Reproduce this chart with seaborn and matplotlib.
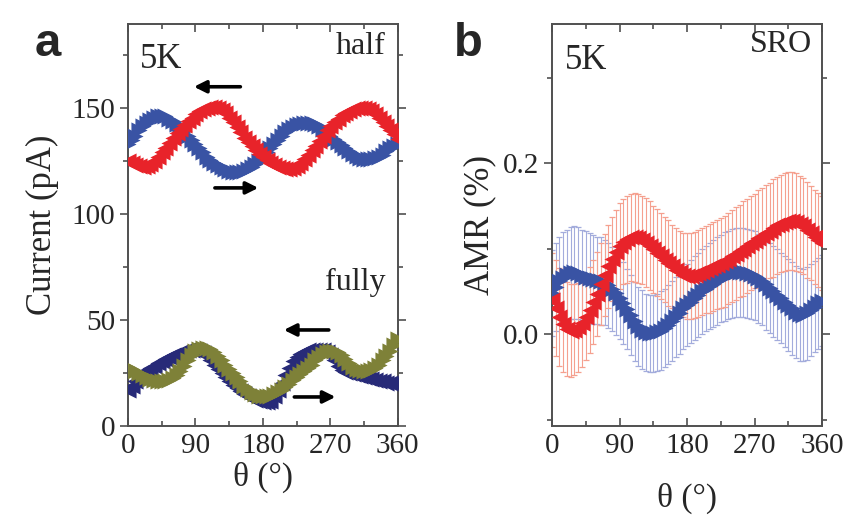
import numpy as np
import matplotlib
matplotlib.use("Agg")
import matplotlib.pyplot as plt
from matplotlib.ticker import MultipleLocator
import seaborn as sns

# ---------------- data ----------------
theta = list(range(0, 361, 5))

# (a) current vs angle, half-metallic device
half_up = [133, 135, 137, 139.5, 141.5, 143, 144.5, 145.5, 146, 146.3,
           146, 145, 144, 142.5, 141, 139, 137, 135, 133, 131,
           129, 127, 125.5, 124, 123, 122, 121, 120.5, 120, 120,
           120, 120.3, 121, 122, 123.5, 125, 127, 129, 131, 133,
           135, 137, 138.5, 140, 141, 142, 142.5, 143, 143, 143,
           142.5, 141.5, 140, 138.5, 137, 135.5, 134, 132.5, 131, 129.5,
           128.5, 127.5, 126.5, 126, 126, 126, 126.5, 127, 128, 129.5,
           131, 132, 133]
half_down = [125, 124, 123, 122.5, 122, 122.5, 123.5, 125, 127, 129,
             131, 133.5, 136, 138, 140, 142, 144, 145.5, 147, 148.5,
             149.5, 150, 150.5, 150.5, 150, 149, 147.5, 145.5, 143.5, 141,
             138.5, 136, 134, 132, 130, 128.5, 127, 125.5, 124, 123,
             122, 121.5, 121, 121, 121.5, 122.5, 124, 126, 128, 130,
             132, 134.5, 137, 139.5, 141.5, 143.5, 145, 146.5, 147.5, 148.5,
             149.5, 150, 150, 150, 149.5, 148.5, 147, 145.5, 143.5, 141.5,
             139.5, 137.5, 135.5]

# (a) current vs angle, fully-metallic device
fully_down = [17, 19, 21, 23, 25, 26.5, 27.5, 28.5, 29.5, 30.5,
              31.5, 32.5, 33.3, 34, 34.7, 35.3, 35.8, 36, 36, 35.5,
              34.5, 33, 31, 29, 27, 25, 23, 21, 19.5, 18,
              16.5, 15, 14, 13, 12.3, 11.8, 11.5, 11.5, 12, 14,
              17, 20.5, 24, 27.5, 30.5, 32.5, 34, 35, 35.8, 36,
              36, 36, 35.8, 35, 33.5, 31, 28.5, 26.5, 25.5, 25,
              24.5, 24, 23.5, 23, 22.5, 22, 21.5, 21, 21, 20.5,
              20.5, 20.5, 20.5]
fully_up = [28, 27, 26, 25, 24, 23, 22, 21.5, 21, 21,
            21, 21.5, 22.5, 24, 26, 28.5, 31, 33.5, 35.5, 36.5,
            37, 37, 36.5, 35, 33, 31, 29, 27, 25, 23,
            21, 19, 17.5, 16, 15, 14.3, 14, 14, 14.3, 15,
            16, 17, 18.5, 20, 21.5, 23, 24.5, 26, 27.5, 29,
            31, 32.5, 34, 35, 35.5, 35.5, 35, 33.5, 31.5, 29.5,
            28, 27, 26.5, 26, 26, 26.5, 27.5, 29, 31, 33,
            35.5, 38, 41]

# (b) AMR of SRO reference film
amr_up = [0.048, 0.055, 0.062, 0.066, 0.069, 0.071, 0.072, 0.071, 0.069, 0.067,
          0.066, 0.064, 0.063, 0.062, 0.060, 0.057, 0.053, 0.048, 0.042, 0.036,
          0.029, 0.022, 0.015, 0.009, 0.005, 0.002, 0.001, 0.001, 0.002, 0.004,
          0.007, 0.011, 0.015, 0.020, 0.025, 0.030, 0.034, 0.038, 0.042, 0.046,
          0.050, 0.053, 0.056, 0.059, 0.062, 0.065, 0.067, 0.069, 0.071, 0.072,
          0.072, 0.072, 0.071, 0.070, 0.068, 0.065, 0.062, 0.058, 0.054, 0.050,
          0.046, 0.042, 0.038, 0.034, 0.030, 0.026, 0.023, 0.022, 0.024, 0.028,
          0.032, 0.036, 0.039]
amr_up_err = [0.050, 0.051, 0.052, 0.053, 0.053, 0.054, 0.054, 0.054, 0.053, 0.053,
              0.052, 0.052, 0.051, 0.051, 0.050, 0.050, 0.049, 0.049, 0.048, 0.048,
              0.047, 0.047, 0.046, 0.046, 0.046, 0.045, 0.045, 0.045, 0.045, 0.046,
              0.046, 0.046, 0.047, 0.047, 0.048, 0.048, 0.048, 0.049, 0.049, 0.049,
              0.050, 0.050, 0.050, 0.051, 0.051, 0.051, 0.052, 0.052, 0.052, 0.052,
              0.052, 0.052, 0.052, 0.052, 0.052, 0.052, 0.052, 0.053, 0.053, 0.053,
              0.053, 0.053, 0.053, 0.054, 0.054, 0.054, 0.054, 0.054, 0.054, 0.054,
              0.053, 0.053, 0.053]
amr_down = [0.040, 0.030, 0.020, 0.012, 0.006, 0.004, 0.005, 0.008, 0.013, 0.020,
            0.028, 0.037, 0.047, 0.058, 0.069, 0.079, 0.088, 0.096, 0.103, 0.108,
            0.111, 0.113, 0.113, 0.112, 0.110, 0.107, 0.103, 0.099, 0.095, 0.091,
            0.087, 0.083, 0.079, 0.075, 0.072, 0.069, 0.068, 0.068, 0.069, 0.071,
            0.073, 0.075, 0.077, 0.079, 0.081, 0.083, 0.085, 0.088, 0.091, 0.094,
            0.097, 0.100, 0.103, 0.106, 0.109, 0.112, 0.115, 0.118, 0.121, 0.124,
            0.127, 0.129, 0.131, 0.132, 0.132, 0.131, 0.129, 0.126, 0.122, 0.118,
            0.114, 0.110, 0.106]
amr_down_err = [0.055, 0.056, 0.057, 0.056, 0.055, 0.054, 0.053, 0.052, 0.051, 0.050,
                0.050, 0.049, 0.049, 0.048, 0.048, 0.048, 0.049, 0.049, 0.050, 0.050,
                0.051, 0.051, 0.052, 0.052, 0.052, 0.052, 0.052, 0.051, 0.051, 0.050,
                0.050, 0.050, 0.049, 0.049, 0.049, 0.049, 0.050, 0.050, 0.050, 0.051,
                0.051, 0.051, 0.052, 0.052, 0.052, 0.053, 0.053, 0.053, 0.054, 0.054,
                0.054, 0.055, 0.055, 0.055, 0.055, 0.056, 0.056, 0.056, 0.056, 0.057,
                0.057, 0.057, 0.057, 0.057, 0.057, 0.057, 0.056, 0.056, 0.056, 0.055,
                0.055, 0.055, 0.055]

x_ticks = [0, 90, 180, 270, 360]

# ---------------- style ----------------
sns.set_theme(style="ticks")
plt.rcParams["font.family"] = ["Liberation Serif", "DejaVu Serif"]
plt.rcParams["mathtext.fontset"] = "stix"

RED = "#e8232a"
BLUE = "#3953a4"
NAVY = "#272a78"
OLIVE = "#7e8138"
SPINE = "#505050"

fig = plt.figure(figsize=(8.59, 5.15), dpi=100)
ax_a = fig.add_axes([0.149, 0.1728, 0.314, 0.7806])
ax_b = fig.add_axes([0.6426, 0.1728, 0.3144, 0.7806])


def style_axes(ax):
    for s in ax.spines.values():
        s.set_color(SPINE)
        s.set_linewidth(1.4)
        s.set_visible(True)
    ax.tick_params(axis="x", which="both", direction="in", top=True, bottom=True,
                   color=SPINE, width=1.2, labelsize=21, pad=5)
    ax.tick_params(axis="y", which="both", direction="out", left=True, right=True,
                   color=SPINE, width=1.2, labelsize=21, pad=3)
    ax.tick_params(which="major", length=6)
    ax.tick_params(which="minor", length=3.5)
    ax.set_xlim(0, 360)
    ax.set_xticks(x_ticks)
    ax.xaxis.set_minor_locator(MultipleLocator(45))
    ax.set_facecolor("white")
    ax.grid(False)


MS = 135

# ----- panel a -----
sns.scatterplot(x=theta, y=half_up, marker=">", s=MS, color=BLUE, linewidth=0, ax=ax_a, zorder=3)
sns.scatterplot(x=theta, y=half_down, marker="<", s=MS, color=RED, linewidth=0, ax=ax_a, zorder=3)
sns.scatterplot(x=theta, y=fully_down, marker="<", s=MS, color=NAVY, linewidth=0, ax=ax_a, zorder=3)
sns.scatterplot(x=theta, y=fully_up, marker=">", s=MS, color=OLIVE, linewidth=0, ax=ax_a, zorder=3)

style_axes(ax_a)
ax_a.set_ylim(0, 189.6)
ax_a.set_yticks([0, 50, 100, 150])
ax_a.yaxis.set_minor_locator(MultipleLocator(25))
ax_a.set_xlabel("θ (°)", fontsize=24, labelpad=2)
ax_a.set_ylabel("Current (pA)", fontsize=25, labelpad=9)

arrow = dict(arrowstyle="-|>", color="black", lw=2.6, mutation_scale=18,
             shrinkA=0, shrinkB=0)
ax_a.annotate("", xy=(88, 160), xytext=(150, 160), arrowprops=arrow)
ax_a.annotate("", xy=(174, 112.3), xytext=(116, 112.3), arrowprops=arrow)
ax_a.annotate("", xy=(208, 45.3), xytext=(268, 45.3), arrowprops=arrow)
ax_a.annotate("", xy=(277, 13.7), xytext=(222, 13.7), arrowprops=arrow)

ax_a.text(0.044, 0.912, "5K", transform=ax_a.transAxes, fontsize=25, va="center", ha="left")
ax_a.text(0.955, 0.945, "half", transform=ax_a.transAxes, fontsize=23, va="center", ha="right")
ax_a.text(0.955, 0.357, "fully", transform=ax_a.transAxes, fontsize=23, va="center", ha="right")

# ----- panel b -----
ax_b.errorbar(theta, amr_up, yerr=amr_up_err, fmt="none", ecolor="#a3acdc",
              elinewidth=0.8, capsize=2.5, capthick=0.9, zorder=2)
ax_b.errorbar(theta, amr_down, yerr=amr_down_err, fmt="none", ecolor="#f5a08f",
              elinewidth=0.8, capsize=2.5, capthick=0.9, zorder=2)
sns.scatterplot(x=theta, y=amr_up, marker=">", s=MS, color=BLUE, linewidth=0, ax=ax_b, zorder=3)
sns.scatterplot(x=theta, y=amr_down, marker="<", s=MS, color=RED, linewidth=0, ax=ax_b, zorder=3)

style_axes(ax_b)
ax_b.set_ylim(-0.1076, 0.3626)
ax_b.set_yticks([0.0, 0.2])
ax_b.set_yticklabels(["0.0", "0.2"])
ax_b.yaxis.set_minor_locator(MultipleLocator(0.1))
ax_b.set_xlabel("θ (°)", fontsize=24, labelpad=17)
ax_b.set_ylabel("AMR (%)", fontsize=25, labelpad=5)

ax_b.text(0.048, 0.910, "5K", transform=ax_b.transAxes, fontsize=25, va="center", ha="left")
ax_b.text(0.963, 0.948, "SRO", transform=ax_b.transAxes, fontsize=23, va="center", ha="right")

# panel letters
fig.text(0.040, 0.915, "a", fontsize=34, fontweight="bold",
         family=["Liberation Sans", "DejaVu Sans"], ha="left", va="center")
fig.text(0.528, 0.915, "b", fontsize=34, fontweight="bold",
         family=["Liberation Sans", "DejaVu Sans"], ha="left", va="center")

fig.savefig("out.png", dpi=100, facecolor="white")
